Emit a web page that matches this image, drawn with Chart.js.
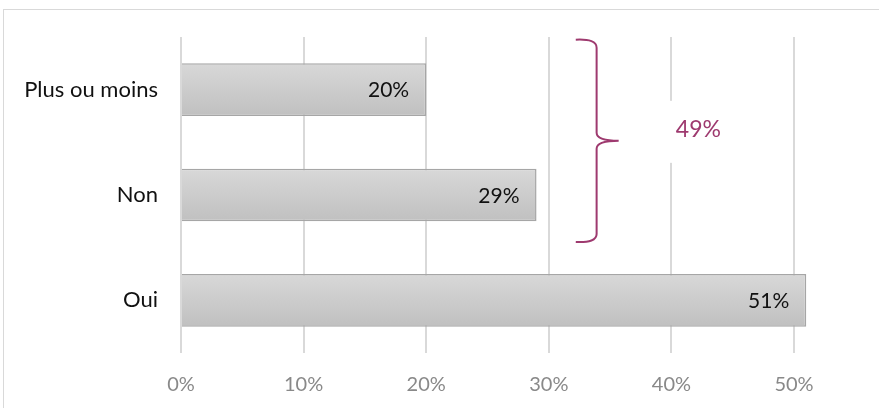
<!DOCTYPE html>
<html>
<head>
<meta charset="utf-8">
<script src="https://cdn.jsdelivr.net/npm/chart.js@4"></script>
<style>
  html, body { margin: 0; padding: 0; background: #ffffff; }
  #chart { display: block; }
</style>
</head>
<body>
<canvas id="chart" width="879" height="408"></canvas>
<script>
const categories = ['Plus ou moins', 'Non', 'Oui'];
const shares = [20, 29, 51];
const xTicks = [0, 10, 20, 30, 40, 50];
// The brace groups the first two answers
const bracedIndexes = [0, 1];

const FONT = 'Lato, "Open Sans", sans-serif';
const PURPLE = '#9e3a6f';

// Light frame around the whole chart
const framePlugin = {
    id: 'frame',
    beforeDraw(chart) {
        const ctx = chart.ctx;
        ctx.save();
        ctx.strokeStyle = '#d9d9d9';
        ctx.lineWidth = 1;
        ctx.strokeRect(3.5, 9.5, 1000, 1000);
        ctx.restore();
    }
};

// Value labels inside the end of each bar
const valueLabels = {
    id: 'valueLabels',
    afterDatasetsDraw(chart) {
        const ctx = chart.ctx;
        const meta = chart.getDatasetMeta(0);
        ctx.save();
        ctx.font = '21px ' + FONT;
        ctx.fillStyle = '#111111';
        ctx.textAlign = 'right';
        ctx.textBaseline = 'middle';
        meta.data.forEach((bar, i) => {
            ctx.fillText(shares[i] + '%', bar.x - 17, bar.y + 1);
        });
        ctx.restore();
    }
};

// Curly brace with the combined share of the braced answers
const bracePlugin = {
    id: 'brace',
    afterDraw(chart) {
        const x = chart.scales.x;
        const y = chart.scales.y;
        const ctx = chart.ctx;
        const first = bracedIndexes[0];
        const last = bracedIndexes[bracedIndexes.length - 1];
        const top = y.getPixelForValue(first) - 50;
        const bottom = y.getPixelForValue(last) + 47;
        const mid = (top + bottom) / 2;
        const xl = x.getPixelForValue(32.2);
        const xv = x.getPixelForValue(33.9);
        const xt = x.getPixelForValue(35.7);

        ctx.save();
        ctx.strokeStyle = PURPLE;
        ctx.lineWidth = 2;
        ctx.beginPath();
        ctx.moveTo(xl, top);
        ctx.quadraticCurveTo(xv, top - 1, xv, top + 8);
        ctx.lineTo(xv, mid - 8);
        ctx.quadraticCurveTo(xv, mid, xt, mid);
        ctx.moveTo(xt, mid);
        ctx.quadraticCurveTo(xv, mid, xv, mid + 8);
        ctx.lineTo(xv, bottom - 8);
        ctx.quadraticCurveTo(xv, bottom + 1, xl, bottom);
        ctx.stroke();

        const total = bracedIndexes.reduce((s, i) => s + shares[i], 0);
        const lx = x.getPixelForValue(42.2);
        const ly = mid - 11;
        ctx.fillStyle = '#ffffff';
        ctx.fillRect(lx - 38, ly - 29, 76, 62);
        ctx.fillStyle = PURPLE;
        ctx.font = '23px ' + FONT;
        ctx.textAlign = 'center';
        ctx.textBaseline = 'middle';
        ctx.fillText(total + '%', lx, ly);
        ctx.restore();
    }
};

function barGradient(context) {
    const chart = context.chart;
    const area = chart.chartArea;
    if (!area) return '#cccccc';
    const half = (area.height / categories.length) * 0.5 / 2;
    const cy = chart.scales.y.getPixelForValue(context.dataIndex);
    const g = chart.ctx.createLinearGradient(0, cy - half, 0, cy + half);
    g.addColorStop(0, '#d8d8d8');
    g.addColorStop(1, '#c0c0c0');
    return g;
}

new Chart(document.getElementById('chart'), {
    type: 'bar',
    data: {
        labels: categories,
        datasets: [{
            data: shares,
            backgroundColor: barGradient,
            borderColor: '#a6a6a6',
            borderWidth: 1.5,
            barPercentage: 0.5,
            categoryPercentage: 1,
            clip: false
        }]
    },
    options: {
        indexAxis: 'y',
        responsive: false,
        animation: false,
        devicePixelRatio: 1,
        layout: {
            padding: { top: 37, right: 85, bottom: 0, left: 0 }
        },
        plugins: {
            legend: { display: false },
            tooltip: { enabled: false }
        },
        scales: {
            x: {
                min: 0,
                max: 50,
                afterBuildTicks(scale) {
                    scale.ticks = xTicks.map(v => ({ value: v }));
                },
                afterFit(scale) {
                    scale.height = 55;
                },
                grid: {
                    color: '#d9d9d9',
                    lineWidth: 2,
                    drawTicks: false
                },
                border: { display: false },
                ticks: {
                    padding: 20,
                    color: '#898989',
                    font: { family: FONT, size: 20 },
                    callback: v => v + '%'
                }
            },
            y: {
                afterFit(scale) {
                    scale.width = 181;
                },
                grid: { display: false, drawTicks: false },
                border: { display: false },
                ticks: {
                    padding: 23,
                    color: '#111111',
                    font: { family: FONT, size: 22 }
                }
            }
        }
    },
    plugins: [framePlugin, valueLabels, bracePlugin]
});
</script>
</body>
</html>
